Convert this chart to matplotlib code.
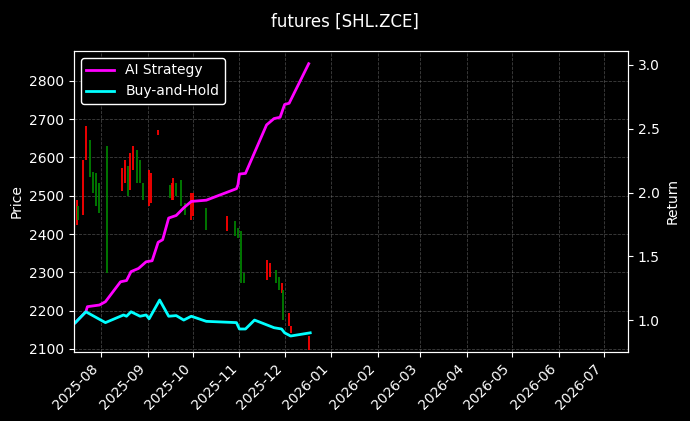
import matplotlib.pyplot as plt
import matplotlib.dates as mdates
import pandas as pd

start = pd.Timestamp('2025-07-15')

# candles: day offset, open, close
candle_days = [1, 2, 5, 7, 10, 12, 14, 16, 21, 31, 33, 35, 36, 38, 41, 43, 45, 49, 50, 55,
               63, 64, 65, 67, 70, 73, 77, 78, 87, 101, 106, 108, 110, 112, 127, 129, 133,
               135, 137, 138, 142, 143, 155]
candle_open = [2424, 2472, 2450, 2594, 2646, 2563, 2559, 2533, 2629, 2511, 2533, 2577, 2516,
               2568, 2620, 2594, 2533, 2472, 2481, 2659, 2529, 2489, 2489, 2533, 2542, 2481,
               2437, 2446, 2468, 2407, 2433, 2416, 2407, 2298, 2281, 2289, 2307, 2289, 2246,
               2255, 2159, 2141, 2098]
candle_close = [2489, 2437, 2594, 2681, 2550, 2507, 2472, 2455, 2298, 2572, 2594, 2498, 2611,
                2629, 2533, 2533, 2489, 2568, 2559, 2672, 2494, 2533, 2546, 2498, 2472, 2450,
                2507, 2507, 2411, 2446, 2394, 2389, 2272, 2272, 2333, 2324, 2272, 2255, 2272,
                2176, 2194, 2159, 2133]

# strategy curves: day offset, cumulative return
ai_days = [0, 7, 8, 16, 20, 30, 34, 37, 42, 47, 51, 55, 58, 62, 67, 72, 77, 87, 107, 108,
           109, 113, 127, 132, 136, 139, 142, 155]
ai_ret = [0.98, 1.065, 1.105, 1.118, 1.144, 1.30, 1.31, 1.38, 1.405, 1.457, 1.465, 1.61, 1.63,
          1.80, 1.82, 1.88, 1.93, 1.94, 2.03, 2.06, 2.145, 2.15, 2.53, 2.58, 2.59, 2.69, 2.70, 3.01]
bh_days = [0, 7, 20, 32, 34, 37, 43, 47, 49, 56, 62, 67, 72, 77, 87, 107, 109, 113, 119, 132,
           137, 139, 143, 156]
bh_ret = [0.98, 1.065, 0.98, 1.04, 1.03, 1.065, 1.03, 1.04, 1.01, 1.157, 1.03, 1.035, 1.0,
          1.03, 0.99, 0.98, 0.93, 0.93, 1.0, 0.94, 0.93, 0.90, 0.875, 0.90]

plt.style.use('dark_background')
fig = plt.figure(figsize=(6.9, 4.21), dpi=100)
ax = fig.add_axes([0.107, 0.164, 0.803, 0.715])
ax.set_facecolor('black')

cd = [start + pd.Timedelta(days=d) for d in candle_days]
colors = ['red' if c > o else 'green' for o, c in zip(candle_open, candle_close)]
ax.vlines(cd, candle_open, candle_close, colors=colors, linewidth=1.3)
ax.set_ylim(2092, 2878)
ax.set_ylabel('Price')
ax.grid(True, linestyle='--', color='gray', alpha=0.5, linewidth=0.6)

ax2 = ax.twinx()
ax2.plot([start + pd.Timedelta(days=d) for d in ai_days], ai_ret, color='magenta',
         linewidth=2, label='AI Strategy')
ax2.plot([start + pd.Timedelta(days=d) for d in bh_days], bh_ret, color='cyan',
         linewidth=2, label='Buy-and-Hold')
ax2.set_ylim(0.75, 3.11)
ax2.set_ylabel('Return')
ax2.legend(loc='upper left', facecolor='black', edgecolor='white', framealpha=1)

ax.set_xlim(pd.Timestamp('2025-07-14'), pd.Timestamp('2026-07-17'))
ax.xaxis.set_major_locator(mdates.MonthLocator())
ax.xaxis.set_major_formatter(mdates.DateFormatter('%Y-%m'))
plt.setp(ax.get_xticklabels(), rotation=45, ha='right')

fig.suptitle('futures [SHL.ZCE]', y=0.97)
fig.savefig('out.png')
